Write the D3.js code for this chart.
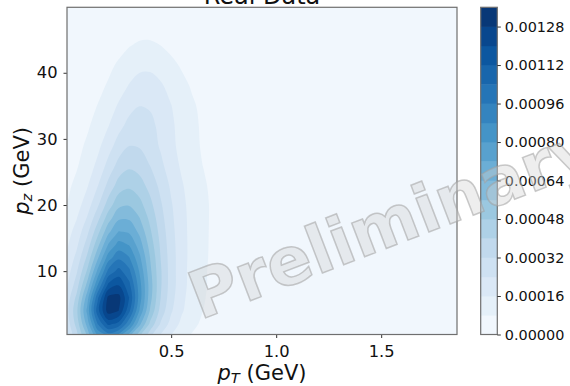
<!DOCTYPE html>
<html>
<head>
<meta charset="utf-8">
<script src="https://cdn.jsdelivr.net/npm/d3@7"></script>
<style>
  html, body { margin: 0; padding: 0; background: #ffffff; }
  svg { display: block; font-family: "DejaVu Sans", sans-serif; }
</style>
</head>
<body>
<svg id="chart" width="570" height="386"></svg>
<script>
// ---- Data -----------------------------------------------------------------
// Sampling grid of the event density: transverse momentum columns (GeV)
const ptGrid = [0, 0.05, 0.10, 0.15, 0.20, 0.25, 0.30, 0.35, 0.40, 0.45, 0.50, 0.55, 0.60, 0.65, 0.70, 0.75, 0.80];
// ... and longitudinal momentum rows (GeV)
const pzGrid = [0, 2, 4, 6, 8, 10, 12, 14, 16, 18, 20, 23, 26, 29, 32, 35, 38, 41, 44, 47, 50];
// Estimated density (units of 1e-5), one row per pz value, one entry per pT value
const density = [
  [22, 36, 56, 78, 88, 81, 65, 48, 33, 22, 15, 10, 7.0, 4.9, 3.5, 2.6, 1.9],
  [26, 43, 67, 96, 114, 109, 90, 66, 46, 31, 21, 14, 9.7, 6.8, 4.9, 3.6, 2.6],
  [28, 46, 74, 109, 132, 128, 106, 79, 55, 37, 25, 17, 11.5, 8.1, 5.8, 4.2, 3.1],
  [26, 42, 68, 102, 130, 131, 112, 84, 59, 40, 27, 18, 12.5, 8.7, 6.2, 4.5, 3.4],
  [22, 36, 58, 87, 113, 119, 106, 83, 60, 41, 28, 19, 13.0, 9.1, 6.5, 4.7, 3.5],
  [19, 31, 49, 74, 98, 107, 98, 79, 58, 41, 28, 19, 13.0, 9.1, 6.5, 4.7, 3.4],
  [16.6, 26.4, 41.7, 62.7, 84.2, 94.4, 88.7, 73.7, 55.8, 39.9, 27.8, 19.2, 13.3, 9.4, 6.7, 4.9, 3.6],
  [14.2, 22.4, 35.3, 53.3, 72.4, 83.0, 79.5, 67.8, 52.6, 38.5, 27.3, 19.1, 13.4, 9.5, 6.8, 5.0, 3.7],
  [12.2, 19.0, 29.8, 45.0, 61.6, 72.2, 70.7, 61.8, 49.2, 36.8, 26.6, 18.8, 13.4, 9.5, 6.9, 5.0, 3.8],
  [10.0, 15.7, 24.6, 37.4, 52.2, 62.7, 62.9, 56.2, 45.8, 35.0, 25.7, 18.6, 13.3, 9.5, 7.0, 5.1, 3.8],
  [8.2, 12.8, 20.1, 30.8, 43.7, 54.0, 55.5, 50.7, 42.3, 33.1, 24.8, 18.1, 13.1, 9.5, 7.0, 5.1, 3.8],
  [6.2, 9.7, 15.2, 23.5, 34.1, 43.4, 46.3, 43.3, 37.1, 29.7, 22.6, 16.8, 12.3, 9.0, 6.6, 5.0, 3.7],
  [4.7, 7.3, 11.5, 17.9, 26.4, 34.7, 38.4, 36.6, 31.8, 25.8, 19.8, 14.8, 10.9, 8.0, 5.8, 4.3, 3.3],
  [3.8, 5.9, 9.1, 13.9, 20.5, 27.4, 31.8, 31.3, 27.9, 23.0, 18.0, 13.5, 9.9, 7.3, 5.4, 3.9, 3.0],
  [3.1, 4.6, 7.0, 10.6, 15.6, 21.5, 26.5, 27.9, 26.0, 22.1, 17.4, 13.1, 9.7, 7.0, 5.0, 3.7, 2.7],
  [2.6, 3.8, 5.5, 8.2, 12.1, 16.9, 21.4, 23.9, 23.2, 20.2, 16.2, 12.2, 9.0, 6.4, 4.6, 3.3, 2.4],
  [1.8, 2.7, 4.0, 6.0, 8.8, 12.6, 16.5, 19.2, 19.3, 17.0, 13.6, 10.2, 7.2, 5.1, 3.5, 2.5, 1.8],
  [1.4, 2.0, 2.9, 4.3, 6.4, 9.2, 12.2, 14.4, 14.6, 12.9, 10.1, 7.3, 5.0, 3.4, 2.3, 1.6, 1.1],
  [0.8, 1.1, 1.7, 2.6, 3.9, 5.7, 7.8, 9.3, 9.5, 8.2, 6.1, 4.3, 2.8, 1.9, 1.2, 0.8, 0.6],
  [0.3, 0.5, 0.8, 1.2, 1.9, 2.9, 3.9, 4.7, 4.6, 3.8, 2.6, 1.8, 1.1, 0.7, 0.5, 0.3, 0.2],
  [0.1, 0.1, 0.2, 0.4, 0.6, 0.9, 1.4, 1.6, 1.5, 1.1, 0.7, 0.4, 0.3, 0.2, 0.1, 0.1, 0.05]
];
// Filled-contour levels (also the colour-bar bands)
const levels = [0, 0.00008, 0.00016, 0.00024, 0.00032, 0.00040, 0.00048, 0.00056, 0.00064,
                0.00072, 0.00080, 0.00088, 0.00096, 0.00104, 0.00112, 0.00120, 0.00128, 0.00136];
const cbarTicks = [0, 0.00016, 0.00032, 0.00048, 0.00064, 0.00080, 0.00096, 0.00112, 0.00128];
const xTicks = [0.5, 1.0, 1.5];
const yTicks = [10, 20, 30, 40];
const xLimits = [0.004, 1.861];
const yLimits = [0.42, 49.9];

// ---- Layout ---------------------------------------------------------------
const plot = { left: 67, right: 457, top: 7.3, bottom: 334.5 };
const cbar = { left: 480.7, width: 16.6 };
const font = '"DejaVu Sans", sans-serif';
const textColor = "#111";

const svg = d3.select("#chart");
const x = d3.scaleLinear().domain(xLimits).range([plot.left, plot.right]);
const y = d3.scaleLinear().domain(yLimits).range([plot.bottom, plot.top]);

// Blues colour map (ColorBrewer stops, linearly interpolated)
const bluesStops = ["#f7fbff", "#deebf7", "#c6dbef", "#9ecae1", "#6baed6", "#4292c6", "#2171b5", "#08519c", "#08306b"];
const blues = d3.scaleLinear()
  .domain(bluesStops.map((_, i) => i / (bluesStops.length - 1)))
  .range(bluesStops)
  .interpolate(d3.interpolateRgb);
const nBands = levels.length - 1;
const bandColor = k => blues((k + 0.5) / nBands);

// ---- Density contours -----------------------------------------------------
const nx = ptGrid.length, ny = pzGrid.length;
const values = density.flat().map(v => v * 1e-5);
const contourGen = d3.contours().size([nx, ny]).thresholds(levels.slice(1, nBands));
const bands = contourGen(values);

// grid coordinate -> data value (sample i sits at coordinate i + 0.5)
const colToPt = d3.scaleLinear().domain(d3.range(nx)).range(ptGrid);
const rowToPz = d3.scaleLinear().domain(d3.range(ny)).range(pzGrid);
const ringLine = d3.line().curve(d3.curveCatmullRomClosed.alpha(0.5));
function bandPath(geom) {
  let d = "";
  geom.coordinates.forEach(poly => poly.forEach(ring => {
    const pts = ring.slice(0, -1).map(([u, v]) => [x(colToPt(u - 0.5)), y(rowToPz(v - 0.5))]);
    if (pts.length > 2) d += ringLine(pts);
  }));
  return d;
}

svg.append("defs").append("clipPath").attr("id", "plot-clip")
  .append("rect")
  .attr("x", plot.left).attr("y", plot.top)
  .attr("width", plot.right - plot.left).attr("height", plot.bottom - plot.top);

const area = svg.append("g").attr("clip-path", "url(#plot-clip)");
area.append("rect")
  .attr("x", plot.left).attr("y", plot.top)
  .attr("width", plot.right - plot.left).attr("height", plot.bottom - plot.top)
  .attr("fill", bandColor(0));
area.selectAll("path.band")
  .data(bands)
  .join("path")
  .attr("class", "band")
  .attr("d", bandPath)
  .attr("fill-rule", "evenodd")
  .attr("fill", (d, i) => bandColor(i + 1));

// ---- Axes -----------------------------------------------------------------
function styleAxis(g, size) {
  g.select(".domain").remove();
  g.selectAll(".tick line").attr("stroke", "#333").attr("stroke-width", 1);
  g.selectAll(".tick text").attr("fill", textColor)
    .style("font-family", font).style("font-size", size + "px");
}

svg.append("g")
  .attr("transform", `translate(0,${plot.bottom})`)
  .call(d3.axisBottom(x).tickValues(xTicks).tickSize(3.5).tickPadding(7).tickFormat(d3.format(".1f")))
  .call(g => styleAxis(g, 16.3));

svg.append("g")
  .attr("transform", `translate(${plot.left},0)`)
  .call(d3.axisLeft(y).tickValues(yTicks).tickSize(3.5).tickPadding(6).tickFormat(d3.format("d")))
  .call(g => styleAxis(g, 16.3));

svg.append("rect")
  .attr("x", plot.left).attr("y", plot.top)
  .attr("width", plot.right - plot.left).attr("height", plot.bottom - plot.top)
  .attr("fill", "none").attr("stroke", "#6f6f6f").attr("stroke-width", 1.2);

// Title
svg.append("text")
  .attr("x", (plot.left + plot.right) / 2).attr("y", 4)
  .attr("text-anchor", "middle")
  .style("font-family", font).style("font-size", "24px").attr("fill", textColor)
  .text("Real Data");

// Axis labels with math-style subscripts
function mathLabel(sel, sub) {
  sel.append("tspan").style("font-style", "italic").text("p");
  sel.append("tspan").style("font-style", "italic").style("font-size", "0.7em")
    .attr("dy", "0.22em").text(sub);
  sel.append("tspan").attr("dy", "-0.154em").text(" (GeV)");
}
svg.append("text")
  .attr("x", (plot.left + plot.right) / 2).attr("y", 380)
  .attr("text-anchor", "middle")
  .style("font-family", font).style("font-size", "21px").attr("fill", textColor)
  .call(t => mathLabel(t, "T"));

svg.append("text")
  .attr("transform", `translate(29,${(plot.top + plot.bottom) / 2}) rotate(-90)`)
  .attr("text-anchor", "middle")
  .style("font-family", font).style("font-size", "21px").attr("fill", textColor)
  .call(t => mathLabel(t, "z"));

// ---- Colour bar -----------------------------------------------------------
const cy = d3.scaleLinear().domain([levels[0], levels[nBands]]).range([plot.bottom, plot.top]);
const cb = svg.append("g");
cb.selectAll("rect.cb")
  .data(d3.range(nBands))
  .join("rect")
  .attr("class", "cb")
  .attr("x", cbar.left).attr("width", cbar.width)
  .attr("y", k => cy(levels[k + 1]))
  .attr("height", k => cy(levels[k]) - cy(levels[k + 1]) + 0.4)
  .attr("fill", k => bandColor(k));
cb.append("rect")
  .attr("x", cbar.left).attr("y", plot.top)
  .attr("width", cbar.width).attr("height", plot.bottom - plot.top)
  .attr("fill", "none").attr("stroke", "#6f6f6f").attr("stroke-width", 1.2);
svg.append("g")
  .attr("transform", `translate(${cbar.left + cbar.width},0)`)
  .call(d3.axisRight(cy).tickValues(cbarTicks).tickSize(3.5).tickPadding(4).tickFormat(d3.format(".5f")))
  .call(g => styleAxis(g, 14.4));

// ---- Watermark ------------------------------------------------------------
svg.append("text")
  .attr("transform", "translate(200,320) rotate(-21)")
  .style("font-family", font).style("font-size", "66px").style("font-weight", "bold")
  .attr("fill", "rgba(210,210,210,0.38)")
  .attr("stroke", "rgba(160,160,160,0.55)").attr("stroke-width", 1.5)
  .text("Preliminary");
</script>
</body>
</html>
